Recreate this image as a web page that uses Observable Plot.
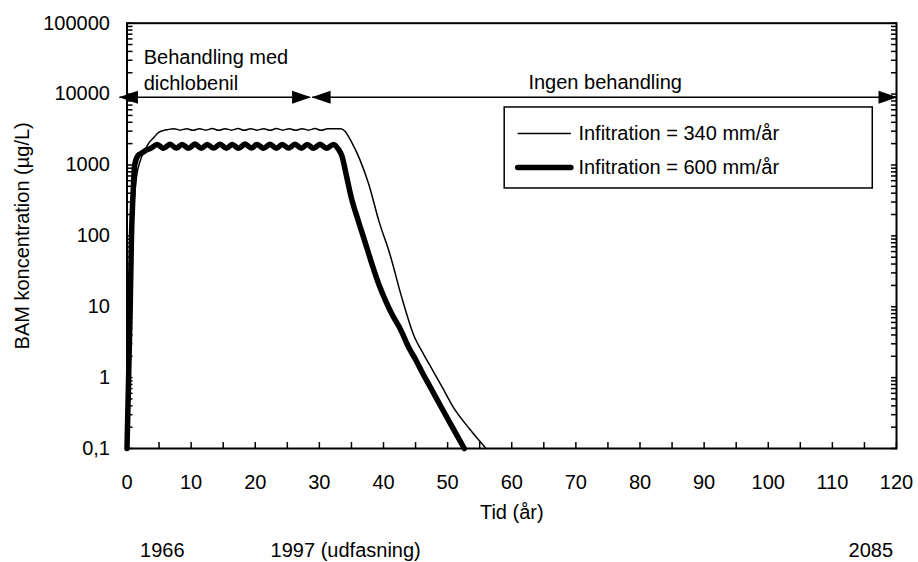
<!DOCTYPE html>
<html><head><meta charset="utf-8">
<script src="https://cdn.jsdelivr.net/npm/d3@7"></script>
<script src="https://cdn.jsdelivr.net/npm/@observablehq/plot@0.6"></script>
<style>body{margin:0;background:#fff}</style>
</head><body><div id="chart"></div>
<script>
// ---- data ----
const thinName = "Infitration = 340 mm/år";
const thickName = "Infitration = 600 mm/år";

const thinYears = [0, 0.3, 0.55, 0.8, 1.1, 1.5, 2.0, 2.9, 3.5, 4.1, 5.0, 5.6, 6.3,
  7.3, 8.3, 9.3, 10.3, 11.3, 12.3, 13.3, 14.3, 15.3, 16.3, 17.3, 18.3, 19.3, 20.3,
  21.3, 22.3, 23.3, 24.3, 25.3, 26.3, 27.3, 28.3, 29.3, 30.3, 31.3, 32.3,
  33.3, 34.0, 34.9, 36.3, 37.7, 39.3, 41.0, 42.8, 44.7, 46.3, 47.5, 49.2, 50.9, 53.4, 56.0];
const thinValues = [0.1, 1, 10, 80, 300, 700, 1100, 1700, 2100, 2400, 2900, 3050, 3150,
  3250, 3100, 3250, 3080, 3250, 3100, 3260, 3080, 3250, 3100, 3260, 3080, 3250, 3100,
  3250, 3080, 3260, 3100, 3250, 3080, 3250, 3100, 3260, 3080, 3250, 3250,
  3250, 3000, 2200, 1200, 535, 160, 55, 14, 4, 2.1, 1.35, 0.72, 0.38, 0.19, 0.1];

const thickYears = [0, 0.25, 0.5, 0.7, 0.95, 1.2, 1.7, 2.2, 2.9, 3.7,
  4.7, 5.7, 6.7, 7.7, 8.6, 9.6, 10.6, 11.6, 12.5, 13.5, 14.5, 15.5, 16.4, 17.4,
  18.4, 19.4, 20.3, 21.3, 22.3, 23.3, 24.2, 25.2, 26.2, 27.2, 28.1, 29.1, 30.1, 31.1,
  32.2, 33.0, 33.5, 34.2, 35.0, 36.0, 37.1, 38.2, 39.3, 40.3, 41.3,
  42.6, 44.0, 45.0, 46.0, 47.5, 49.1, 50.8, 52.6];
const thickValues = [0.1, 1, 10, 100, 400, 1000, 1350, 1450, 1600, 1720,
  1950, 1720, 1960, 1730, 1950, 1720, 1970, 1720, 1950, 1730, 1960, 1720, 1950, 1720,
  1970, 1730, 1950, 1720, 1960, 1720, 1950, 1730, 1960, 1720, 1950, 1720, 1960, 1720,
  1950, 1650, 1350, 720, 340, 170, 83, 40, 20.4, 12.3, 7.9,
  4.9, 2.6, 1.8, 1.2, 0.68, 0.37, 0.195, 0.1];

const xTickValues = [0, 10, 20, 30, 40, 50, 60, 70, 80, 90, 100, 110, 120];
const xMinorTicks = [5, 15, 25, 35, 45, 55, 65, 75, 85, 95, 105, 115];
const yTickValues = [0.1, 1, 10, 100, 1000, 10000, 100000];
const yTickLabels = ["0,1", "1", "10", "100", "1000", "10000", "100000"];

const xTitle = "Tid (år)";
const yTitle = "BAM koncentration (µg/L)";

const yearLabels = ["1966", "1997 (udfasning)", "2085"];
const yearAt = [5.5, 34.1, 116.0];

const periodLabels = ["Behandling med\ndichlobenil", "Ingen behandling"];
const periodX = [2.6, 62.6];
const periodY = [48300, 14400];

const arrowLevel = 9000;
const arrowFrom = [-1.1, 28.95];
const arrowTo = [28.55, 120];

// legend placement (in data units)
const legendBox = {x1: 58.9, x2: 116.3, y1: 6470, y2: 466};
const legendLineX = [61.0, 69.3];
const legendTextX = 70.4;
const legendRowY = [2780, 923];

// ---- build ----
const thin = thinYears.map((x, i) => ({x, y: thinValues[i]}));
const thick = thickYears.map((x, i) => ({x, y: thickValues[i]}));
const yMinor = [];
for (let k = -1; k < 5; k++) for (let m = 2; m <= 9; m++) yMinor.push(m * Math.pow(10, k));
const yLabelOf = new Map(yTickValues.map((v, i) => [v, yTickLabels[i]]));

const triRight = {draw(c) { c.moveTo(1, 0); c.lineTo(-18, -6.5); c.lineTo(-18, 6.5); c.closePath(); }};
const triLeft = {draw(c) { c.moveTo(-1, 0); c.lineTo(18, -6.5); c.lineTo(18, 6.5); c.closePath(); }};

const segs = arrowFrom.map((a, i) => ({a, b: arrowTo[i]}));
const years = yearLabels.map((t, i) => ({t, x: yearAt[i]}));

const chart = Plot.plot({
  width: 918,
  height: 562,
  marginLeft: 126.5,
  marginRight: 22,
  marginTop: 22.7,
  marginBottom: 114,
  style: {fontFamily: "Arial, 'Liberation Sans', sans-serif", fontSize: "20px", color: "black", background: "white"},
  x: {domain: [0, 120], label: null},
  y: {type: "log", domain: [0.1, 100000], label: null},
  marks: [
    // inward ticks
    Plot.axisY({anchor: "left", ticks: yTickValues.concat(yMinor), tickSize: 6, dx: 6, tickFormat: () => "", label: null, strokeWidth: 1.5}),
    Plot.axisY({anchor: "right", ticks: yTickValues.concat(yMinor), tickSize: 6, dx: -6, tickFormat: () => "", label: null, strokeWidth: 1.5}),
    Plot.axisX({anchor: "bottom", ticks: xTickValues.concat(xMinorTicks), tickSize: 6, dy: -6, tickFormat: () => "", label: null, strokeWidth: 1.5}),
    // tick labels
    Plot.axisY({anchor: "left", ticks: yTickValues, tickSize: 0, tickPadding: 17, tickFormat: d => yLabelOf.get(d), label: null}),
    Plot.axisX({anchor: "bottom", ticks: xTickValues, tickSize: 0, tickPadding: 26, tickFormat: d => String(d), label: null}),
    // titles
    Plot.text([xTitle], {frameAnchor: "bottom", dy: 70, text: d => d}),
    Plot.text([yTitle], {frameAnchor: "left", dx: -104, rotate: -90, textAnchor: "middle", text: d => d}),
    Plot.text(years, {x: "x", frameAnchor: "bottom", dy: 108, text: "t", textAnchor: "middle"}),
    // curves
    Plot.line(thin, {x: "x", y: "y", stroke: "black", strokeWidth: 1.5, curve: "monotone-x"}),
    Plot.line(thick, {x: "x", y: "y", stroke: "black", strokeWidth: 5.5, curve: "monotone-x", strokeLinejoin: "round"}),
    // period arrows
    Plot.ruleY(segs, {y: () => arrowLevel, x1: "a", x2: "b", stroke: "black", strokeWidth: 1.5, clip: false}),
    Plot.dot(segs, {x: "a", y: () => arrowLevel, symbol: triLeft, fill: "black", stroke: null, r: 5}),
    Plot.dot(segs, {x: "b", y: () => arrowLevel, symbol: triRight, fill: "black", stroke: null, r: 5}),
    Plot.text([periodLabels[0]], {x: periodX[0], y: periodY[0], text: d => d, textAnchor: "start", lineAnchor: "top", lineHeight: 1.3}),
    Plot.text([periodLabels[1]], {x: periodX[1], y: periodY[1], text: d => d, textAnchor: "start", lineAnchor: "middle"}),
    // legend
    Plot.rect([legendBox], {x1: "x1", x2: "x2", y1: "y1", y2: "y2", fill: "white", stroke: "black", strokeWidth: 1.5}),
    Plot.ruleY([legendRowY[0]], {y: d => d, x1: legendLineX[0], x2: legendLineX[1], stroke: "black", strokeWidth: 1.5}),
    Plot.ruleY([legendRowY[1]], {y: d => d, x1: legendLineX[0], x2: legendLineX[1], stroke: "black", strokeWidth: 5.5, strokeLinecap: "round"}),
    Plot.text([thinName, thickName], {x: legendTextX, y: (d, i) => legendRowY[i], text: d => d, textAnchor: "start"}),
    // frame
    Plot.frame({stroke: "black", strokeWidth: 2})
  ]
});
document.getElementById("chart").appendChild(chart);
</script>
</body></html>
